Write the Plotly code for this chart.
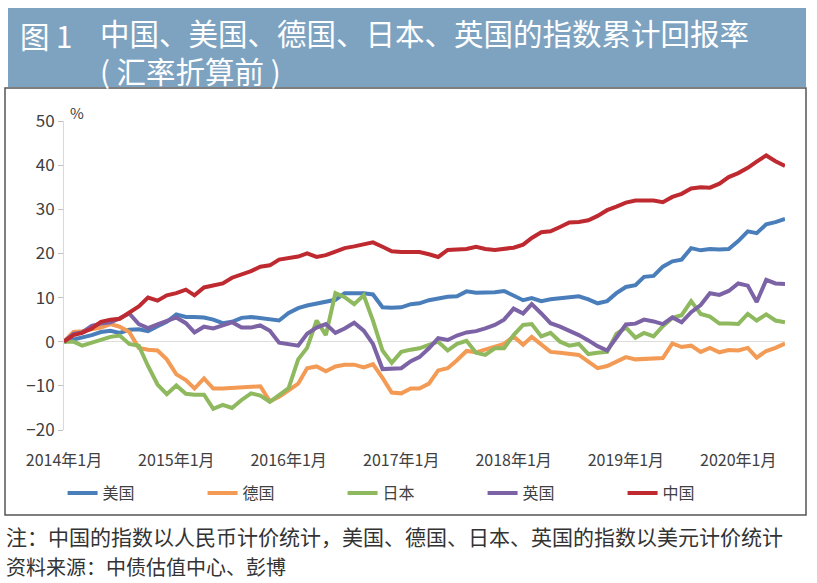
import pandas as pd
import plotly.graph_objects as go

# Monthly points, Jan 2014 - Jun 2020 (cumulative return, %)
months = pd.date_range("2014-01-01", periods=78, freq="MS")

us = [0, 0.5, 0.8, 1.5, 2.2, 2.5, 2.0, 2.7, 2.8, 2.4, 3.5, 4.5,
      6.2, 5.6, 5.6, 5.5, 5.0, 4.2, 4.5, 5.4, 5.6, 5.4, 5.0, 4.8,
      6.5, 7.6, 8.2, 8.6, 8.9, 9.5, 11.0, 11.0, 11.0, 10.7, 7.8, 7.7,
      7.8, 8.5, 8.7, 9.4, 9.9, 10.2, 10.3, 11.4, 11.1, 11.1, 11.2, 11.5,
      10.4, 9.4, 9.9, 9.2, 9.6, 9.9, 10.0, 10.3, 9.6, 8.7, 9.2, 11.0,
      12.4, 12.8, 14.7, 14.9, 17.0, 18.2, 18.6, 21.2, 20.7, 21.0, 20.9, 21.0,
      22.8, 25.0, 24.6, 26.6, 27.1, 27.8]

germany = [0, 2.2, 2.4, 2.8, 3.2, 4.0, 3.4, 2.2, -1.4, -1.8, -2.0, -4.0,
           -7.4, -8.7, -10.6, -8.3, -10.6, -10.6, -10.5, -10.3, -10.1, -10.1, -13.5, -12.5,
           -11.0, -9.5, -6.0, -5.6, -6.7, -5.6, -5.2, -5.2, -5.8, -5.1, -8.2, -11.5,
           -11.7, -10.6, -10.6, -9.5, -6.5, -6.0, -4.2, -2.1, -2.4, -1.8, -1.2, -0.5,
           1.2, -0.7, 1.1, -0.6, -2.3, -2.5, -2.8, -3.0, -4.5, -6.0, -5.5, -4.4,
           -3.5, -4.0, -3.9, -3.7, -3.7, -0.4, -1.2, -0.9, -2.3, -1.4, -2.4, -1.9,
           -2.0, -1.4, -3.6, -2.1, -1.4, -0.4]

japan = [0, 0, -0.9, -0.2, 0.6, 1.1, 1.4, -0.5, -0.9, -5.5, -9.7, -11.9,
         -9.9, -11.8, -12.0, -12.0, -15.2, -14.3, -15.0, -13.2, -11.7, -12.2, -13.6, -12.0,
         -10.5, -4.0, -1.4, 4.8, 1.5, 11.0, 10.1, 8.5, 10.5, 4.8, -2.0, -4.8,
         -2.3, -1.8, -1.5, -0.7, 0, -2.0, -0.5, 0.2, -2.5, -3.0, -1.5, -1.5,
         1.5, 3.8, 4.0, 1.2, 2.0, 0, -0.9, -0.5, -2.8, -2.5, -2.3, 1.8,
         3.2, 0.9, 2.0, 1.2, 3.5, 5.4, 6.0, 9.2, 6.3, 5.7, 4.1, 4.1,
         4.0, 6.3, 4.8, 6.2, 4.8, 4.4]

uk = [0, 1.8, 2.1, 3.6, 4.1, 4.4, 5.3, 6.4, 4.0, 3.1, 3.9, 4.6,
      5.5, 4.2, 2.1, 3.4, 3.0, 3.7, 4.4, 3.2, 3.2, 3.7, 2.5, -0.2,
      -0.6, -0.9, 1.8, 3.2, 4.0, 2.0, 3.0, 4.3, 2.5, -0.5, -6.2, -6.2,
      -6.0, -4.4, -3.5, -1.5, 0.8, 0.4, 1.4, 2.1, 2.4, 3.0, 3.8, 5.0,
      7.5, 6.4, 8.5, 6.4, 4.2, 3.4, 2.5, 1.5, 0.3, -1.0, -2.0, 1.0,
      3.9, 4.1, 5.0, 4.6, 4.0, 5.5, 4.4, 6.7, 8.3, 11.0, 10.6, 11.5,
      13.2, 12.7, 9.0, 14.0, 13.2, 13.1]

china = [0, 1.5, 2.0, 3.0, 4.5, 5.0, 5.2, 6.5, 8.0, 10.0, 9.3, 10.5,
         11.0, 11.8, 10.5, 12.3, 12.8, 13.2, 14.5, 15.2, 16.0, 17.0, 17.3, 18.6,
         19.0, 19.3, 20.0, 19.2, 19.6, 20.5, 21.2, 21.6, 22.0, 22.5, 21.5, 20.5,
         20.3, 20.3, 20.3, 19.8, 19.2, 20.8, 21.0, 21.0, 21.5, 21.0, 20.8, 21.0,
         21.3, 22.0, 23.5, 24.8, 25.0, 26.0, 27.0, 27.1, 27.5, 28.5, 29.8, 30.6,
         31.5, 32.0, 32.1, 32.0, 31.6, 32.8, 33.5, 34.7, 35.0, 34.9, 35.8, 37.3,
         38.2, 39.4, 40.8, 42.2, 40.9, 39.8]

series = [("美国", us, "#4a7ebb"),
          ("德国", germany, "#f39a55"),
          ("日本", japan, "#8fb95e"),
          ("英国", uk, "#7c63a6"),
          ("中国", china, "#bf2a30")]

tick_dates = ["2014-01-01", "2015-01-01", "2016-01-01", "2017-01-01",
              "2018-01-01", "2019-01-01", "2020-01-01"]
tick_text = ["2014年1月", "2015年1月", "2016年1月", "2017年1月",
             "2018年1月", "2019年1月", "2020年1月"]

W, H = 817, 583
FONT = "Noto Sans CJK SC"
y_dom = [1 - 430 / H, 1 - 121 / H]
zero_pos = y_dom[0] + (20 / 70) * (y_dom[1] - y_dom[0])

fig = go.Figure()
for name, vals, color in series:
    fig.add_scatter(x=months, y=vals, mode="lines", name=name,
                    line=dict(color=color, width=4))

fig.update_layout(
    width=W, height=H,
    margin=dict(l=0, r=0, t=0, b=0, pad=0),
    paper_bgcolor="white", plot_bgcolor="white",
    font=dict(family=FONT, color="#404040"),
    showlegend=True,
    legend=dict(orientation="h", x=0.505, xanchor="center",
                y=1 - 493 / H, yanchor="middle",
                font=dict(size=16, color="#404040"),
                entrywidth=95, itemwidth=30),
    xaxis=dict(domain=[64 / W, 785 / W], automargin=False,
               range=["2014-01-01", "2020-06-01"],
               tickvals=tick_dates, ticktext=tick_text,
               showgrid=False, showline=False, zeroline=False,
               ticks="outside", ticklen=16, tickcolor="rgba(0,0,0,0)",
               tickfont=dict(size=16, color="#404040")),
    # small year ticks sitting on the zero line
    xaxis2=dict(domain=[64 / W, 785 / W], automargin=False,
                overlaying="x", matches="x", anchor="free", position=zero_pos,
                range=["2014-01-01", "2020-06-01"], tickvals=tick_dates,
                showticklabels=False, showgrid=False, showline=False, zeroline=False,
                ticks="inside", ticklen=4, tickcolor="#d0d0d0"),
    yaxis=dict(domain=y_dom, automargin=False,
               range=[-20, 50], dtick=10,
               showgrid=False, showline=True, linecolor="#d9d9d9",
               zeroline=True, zerolinecolor="#dcdcdc", zerolinewidth=1,
               ticks="outside", ticklen=5, tickcolor="#bfbfbf",
               tickfont=dict(size=17, color="#404040")),
)

# title banner and frame
fig.add_shape(type="rect", xref="paper", yref="paper",
              x0=8 / W, x1=806 / W, y0=1 - 87 / H, y1=1 - 8 / H,
              fillcolor="#7ea3c1", line=dict(width=0), layer="below")
fig.add_shape(type="rect", xref="paper", yref="paper",
              x0=5 / W, x1=806 / W, y0=1 - 515 / H, y1=1 - 88 / H,
              fillcolor="rgba(0,0,0,0)", line=dict(color="#555555", width=1.5))

title_font = dict(family=FONT, size=29.5, color="white")
fig.add_annotation(text="图 1", x=18 / W, y=1 - 35 / H, xref="paper", yref="paper",
                   xanchor="left", yanchor="middle", showarrow=False, font=title_font)
fig.add_annotation(text="中国、美国、德国、日本、英国的指数累计回报率<br>( 汇率折算前 )",
                   x=98 / W, y=1 - 51 / H, xref="paper", yref="paper", align="left",
                   xanchor="left", yanchor="middle", showarrow=False, font=title_font)

fig.add_annotation(text="%", x=77 / W, y=1 - 112 / H, xref="paper", yref="paper",
                   xanchor="center", yanchor="middle", showarrow=False,
                   font=dict(size=15, color="#404040"))

fig.add_annotation(text="注：中国的指数以人民币计价统计，美国、德国、日本、英国的指数以美元计价统计",
                   x=4 / W, y=1 - 536 / H, xref="paper", yref="paper",
                   xanchor="left", yanchor="middle", showarrow=False,
                   font=dict(family=FONT, size=21, color="#333333"))
fig.add_annotation(text="资料来源：中债估值中心、彭博",
                   x=4 / W, y=1 - 566 / H, xref="paper", yref="paper",
                   xanchor="left", yanchor="middle", showarrow=False,
                   font=dict(family=FONT, size=20, color="#333333"))

# the page body has a default 8px margin; drop it so the figure fills the window
fig.write_html("out.html", config={"displayModeBar": False},
               post_script="document.body.style.margin='0px';")
